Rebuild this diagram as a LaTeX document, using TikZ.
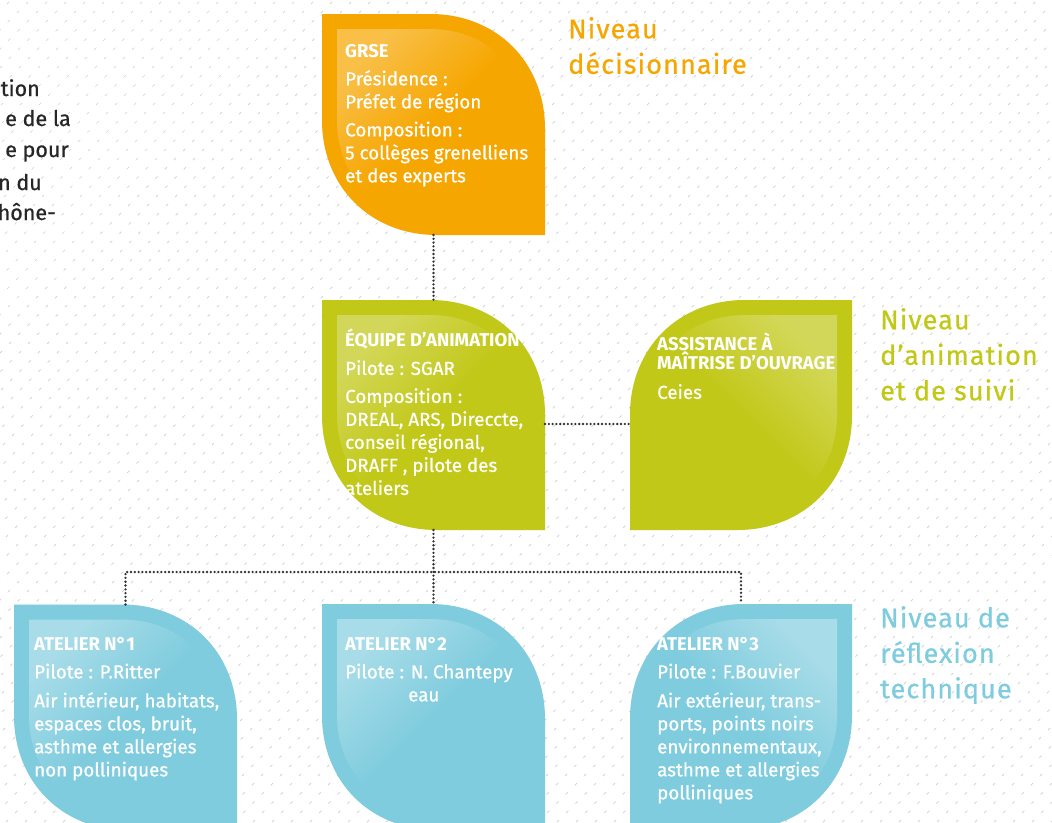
\documentclass[tikz,border=0pt]{standalone}
\usepackage{fontspec}
\setmainfont{Fira Sans}[UprightFeatures={FakeBold=0.7}]
\newfontfamily\lvfont{Fira Sans}[FakeBold=0.7, LetterSpace=4.0]
\usetikzlibrary{calc}
\definecolor{decis}{RGB}{246,166,0}
\definecolor{anim}{RGB}{194,200,24}
\definecolor{reflex}{RGB}{127,204,222}
\definecolor{hatchgray}{RGB}{205,205,205}
\newcommand\hd{\fontsize{18.5}{19}\selectfont\bfseries}
% leaf with sharp top left / bottom right corners: node, inset, radius, options
\newcommand\leafA[4]{\path[#4] ($(#1.north west)+(#2,#2)$) -- ($(#1.north east)+(-#2-#3,#2)$)
  .. controls +(0.58*#3,0) and +(0,-0.58*#3) .. ($(#1.north east)+(-#2,#2+#3)$)
  -- ($(#1.south east)+(-#2,-#2)$) -- ($(#1.south west)+(#2+#3,-#2)$)
  .. controls +(-0.58*#3,0) and +(0,0.58*#3) .. ($(#1.south west)+(#2,-#2-#3)$) -- cycle;}
% leaf with sharp top right / bottom left corners
\newcommand\leafB[4]{\path[#4] ($(#1.north west)+(#2,#2+#3)$)
  .. controls +(0,-0.58*#3) and +(-0.58*#3,0) .. ($(#1.north west)+(#2+#3,#2)$)
  -- ($(#1.north east)+(-#2,#2)$) -- ($(#1.south east)+(-#2,-#2-#3)$)
  .. controls +(0,0.58*#3) and +(0.58*#3,0) .. ($(#1.south east)+(-#2-#3,-#2)$)
  -- ($(#1.south west)+(#2,-#2)$) -- cycle;}
\tikzset{
  box/.style={minimum width=223pt, minimum height=#1, inner sep=0pt, outer sep=0pt},
  txt/.style={anchor=north west, inner sep=0pt, text=white, align=left,
    font=\fontsize{18.8}{23}\selectfont},
  lvl/.style={anchor=north west, inner sep=0pt, align=left,
    font=\lvfont\fontsize{27}{35.5}\selectfont},
  conn/.style={draw=black!80, line width=2.6pt, line cap=round, dash pattern=on 0pt off 3.8pt},
  hatch/.style={draw=hatchgray, line width=0.7pt, dash pattern=on 3pt off 10pt},
  shadow/.style={fill=black, opacity=0.07, xshift=-3pt, yshift=-4pt},
}
\begin{document}
\begin{tikzpicture}[x=1pt,y=-1pt]
\useasboundingbox (0,0) rectangle (1052,822);
\clip (0,0) rectangle (1052,822);
\foreach \i in {-830,-811,...,1060}{\draw[hatch] (\i,822) -- ++(822,-822);}
%
\foreach \e/\y/\t in {40/96/tion, 71/126/e de la, 69/157/e pour, 42/190/n du, 56/220/hône-}
  {\node[anchor=base east, inner sep=0pt, text=black!85, font=\fontsize{21.5}{31}\selectfont] (frag\y) at (\e,\y) {\t};}
%
\node[box=221pt] (grse) at (433.5,124.5) {};
\node[box=230pt] (equipe) at (433.5,415) {};
\node[box=230pt, minimum width=222pt] (assist) at (741,415) {};
\node[box=226pt] (at1) at (125.5,717.5) {};
\node[box=226pt] (at2) at (433.5,717) {};
\node[box=226pt, minimum width=222pt] (at3) at (741,717) {};
%
\foreach \n in {grse,equipe,at1,at2}{\leafA{\n}{0}{115}{shadow}}
\foreach \n in {assist,at3}{\leafB{\n}{0}{115}{shadow}}
\leafA{grse}{0}{115}{fill=decis}
\leafA{grse}{15}{100}{shade, shading=axis, top color=decis!72!white, bottom color=decis, middle color=decis, shading angle=45}
\leafA{equipe}{0}{115}{fill=anim}
\leafA{equipe}{15}{100}{shade, shading=axis, top color=anim!72!white, bottom color=anim, middle color=anim, shading angle=45}
\leafB{assist}{0}{115}{fill=anim}
\leafB{assist}{15}{100}{shade, shading=axis, top color=anim!72!white, bottom color=anim, middle color=anim, shading angle=-45}
\leafA{at1}{0}{115}{fill=reflex}
\leafA{at1}{15}{100}{shade, shading=axis, top color=reflex!68!white, bottom color=reflex, middle color=reflex, shading angle=45}
\leafA{at2}{0}{115}{fill=reflex}
\leafA{at2}{15}{100}{shade, shading=axis, top color=reflex!68!white, bottom color=reflex, middle color=reflex, shading angle=45}
\leafB{at3}{0}{115}{fill=reflex}
\leafB{at3}{15}{100}{shade, shading=axis, top color=reflex!68!white, bottom color=reflex, middle color=reflex, shading angle=-45}
%
\node[txt] (grse-t) at (345,44) {{\hd GRSE}\\[5pt]Présidence :\\Préfet de région\\[5pt]Composition :\\5 collèges grenelliens\\et des experts};
\node[txt] (equipe-t) at (345,329) {{\hd ÉQUIPE D’ANIMATION}\\[5pt]Pilote : SGAR\\[5pt]Composition :\\DREAL, ARS, Direccte,\\conseil régional,\\DRAFF , pilote des\\ateliers};
\node[txt] (assist-t) at (657,333) {{\hd ASSISTANCE À}\\[-4pt]{\hd MAÎTRISE D’OUVRAGE}\\[6pt]Ceies};
\node[txt] (at1-t) at (34,637) {{\hd ATELIER N°1}\\[5pt]Pilote : P.Ritter\\[6pt]Air intérieur, habitats,\\espaces clos, bruit,\\asthme et allergies\\non polliniques};
\node[txt] (at2-t) at (345,637) {{\hd ATELIER N°2}\\[5pt]Pilote : N. Chantepy\\\hspace*{63pt}eau};
\node[txt] (at3-t) at (657,637) {{\hd ATELIER N°3}\\[5pt]Pilote : F.Bouvier\\[6pt]Air extérieur, trans-\\ports, points noirs\\environnementaux,\\asthme et allergies\\polliniques};
%
\node[lvl, text=decis] (niv1) at (568,17) {Niveau\\décisionnaire};
\node[lvl, text=anim] (niv2) at (880,308) {Niveau\\d’animation\\et de suivi};
\node[lvl, text=reflex] (niv3) at (880,606) {Niveau de\\réflexion\\technique};
%
\coordinate (bus) at (433.5,572);
\draw[conn] (grse.south) -- (equipe.north);
\draw[conn] ([yshift=-9pt]equipe.east) -- ([yshift=-9pt]assist.west);
\draw[conn] (equipe.south) -- (at2.north);
\draw[conn] (at1.north) |- (bus) -| (at3.north);
\end{tikzpicture}
\end{document}
